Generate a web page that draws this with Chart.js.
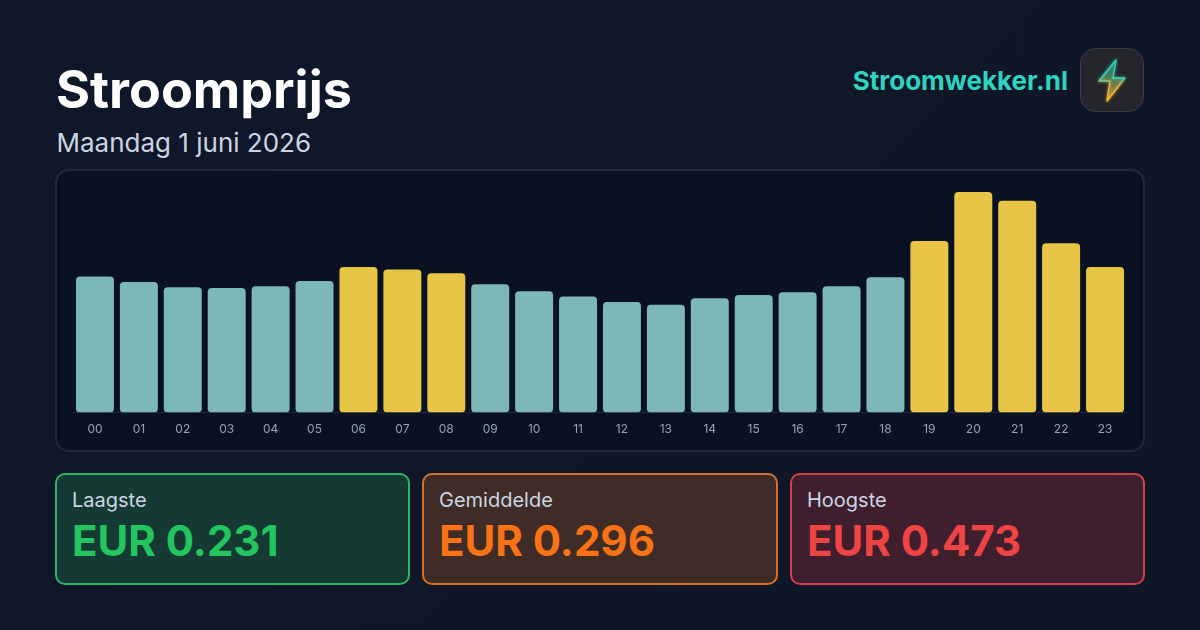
<!DOCTYPE html>
<html lang="nl">
<head>
<meta charset="utf-8">
<title>Stroomprijs</title>
<script src="https://cdn.jsdelivr.net/npm/chart.js@4"></script>
<style>
  html, body { margin: 0; padding: 0; }
  body { width: 1200px; height: 630px; overflow: hidden; position: relative; background: #0f172a;
         background: linear-gradient(135deg, #0f172a 0%, #0e1627 100%); font-family: Inter, sans-serif; }
  .abs { position: absolute; white-space: nowrap; }
  #title { left: 56px; top: 61px; font-size: 52px; line-height: 58px; font-weight: 700; color: #fff; }
  #subtitle { left: 56.5px; top: 126px; font-size: 26px; line-height: 34px; color: #cbd5e1; }
  #brand { right: 132px; top: 64px; font-size: 26px; line-height: 34px; font-weight: 700; color: #2dd4bf; }
  #logo { left: 1080px; top: 48px; width: 62px; height: 62px; border: 1px solid #3a3d44; border-radius: 16px; background: #24262b; }
  #panel { left: 55px; top: 169px; width: 1086px; height: 279px; border: 2px solid #1e293b; border-radius: 14px; background: #0a1122; }
  #chartBox { left: 73px; top: 192px; width: 1054px; height: 247px; }
  .card { top: 473px; width: 351px; height: 108px; border: 2px solid; border-radius: 10px; }
  .card .lbl { position: absolute; left: 15px; top: 12px; font-size: 20px; line-height: 26px; color: #cbd5e1; }
  .card .val { position: absolute; left: 15px; top: 40px; font-size: 42px; line-height: 52px; font-weight: 700; }
</style>
</head>
<body>
<div class="abs" id="title">Stroomprijs</div>
<div class="abs" id="subtitle">Maandag 1 juni 2026</div>
<div class="abs" id="brand">Stroomwekker.nl</div>
<div class="abs" id="logo">
  <svg width="62" height="62" viewBox="0 0 62 62">
    <defs>
      <linearGradient id="bolt" x1="0" y1="0" x2="0" y2="1">
        <stop offset="0" stop-color="#2dd4bf"/>
        <stop offset="0.42" stop-color="#2dd4bf"/>
        <stop offset="0.62" stop-color="#f5b041"/>
        <stop offset="1" stop-color="#fbbf24"/>
      </linearGradient>
      <linearGradient id="boltFill" x1="0" y1="0" x2="0" y2="1">
        <stop offset="0" stop-color="#2dd4bf" stop-opacity="0.2"/>
        <stop offset="1" stop-color="#fbbf24" stop-opacity="0.4"/>
      </linearGradient>
      <filter id="glow" x="-50%" y="-50%" width="200%" height="200%">
        <feGaussianBlur stdDeviation="1.5" result="b"/>
        <feMerge><feMergeNode in="b"/><feMergeNode in="SourceGraphic"/></feMerge>
      </filter>
    </defs>
    <path d="M35 11 L18 32 L29 32 L26 52 L44 29 L32 29 Z" fill="url(#boltFill)" stroke="url(#bolt)" stroke-width="1.3" stroke-linejoin="round" filter="url(#glow)"/>
  </svg>
</div>
<div class="abs" id="panel"></div>
<div class="abs" id="chartBox"><canvas id="priceChart" width="1054" height="247"></canvas></div>

<div class="abs card" style="left:55px;border-color:#2fb56b;background:#153a33">
  <div class="lbl">Laagste</div><div class="val" style="color:#22c55e">EUR 0.231</div>
</div>
<div class="abs card" style="left:422px;width:352px;border-color:#d9702a;background:#3f2c27">
  <div class="lbl">Gemiddelde</div><div class="val" style="color:#f97316">EUR 0.296</div>
</div>
<div class="abs card" style="left:790px;border-color:#d0414a;background:#3f1f2d">
  <div class="lbl">Hoogste</div><div class="val" style="color:#ef4444">EUR 0.473</div>
</div>

<script>
const hours = ['00','01','02','03','04','05','06','07','08','09','10','11','12','13','14','15','16','17','18','19','20','21','22','23'];
const prices = [0.292,0.280,0.269,0.267,0.271,0.282,0.312,0.307,0.299,0.275,0.260,0.249,0.237,0.231,0.245,0.252,0.258,0.271,0.290,0.368,0.473,0.454,0.363,0.312];
const average = 0.296;
const maxPrice = 0.473;

const barColors = prices.map(p => p > average ? '#e8c547' : '#7db8b8');

const ctx = document.getElementById('priceChart').getContext('2d');
new Chart(ctx, {
    type: 'bar',
    data: {
        labels: hours,
        datasets: [{
            data: prices,
            backgroundColor: barColors,
            borderRadius: 4,
            borderSkipped: false,
            barPercentage: 0.865,
            categoryPercentage: 1
        }]
    },
    options: {
        responsive: false,
        animation: false,
        layout: { padding: 0 },
        plugins: { legend: { display: false }, tooltip: { enabled: false } },
        scales: {
            x: {
                grid: { display: false },
                border: { color: '#1e293b' },
                ticks: { color: '#94a3b8', font: { family: 'Inter', size: 12 }, padding: 2, maxRotation: 0, autoSkip: false }
            },
            y: { display: false, min: 0, max: maxPrice }
        }
    }
});
</script>
</body>
</html>
